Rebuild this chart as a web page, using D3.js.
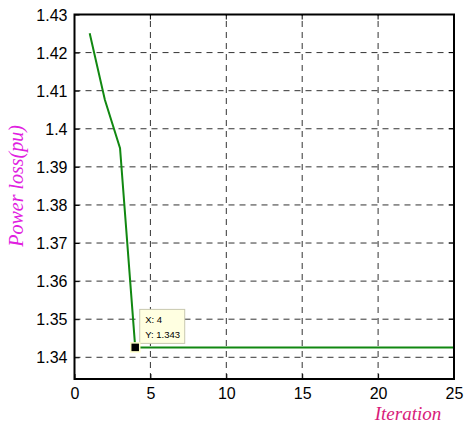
<!DOCTYPE html>
<html>
<head>
<meta charset="utf-8">
<script src="https://cdn.jsdelivr.net/npm/d3@7"></script>
<style>
    body { margin: 0; background: #fff; }
    .tick text, .tip { font-family: "Liberation Sans", Helvetica, Arial, sans-serif; }
    .lbl { font-family: "Liberation Serif", "Times New Roman", serif; font-style: italic; }
</style>
</head>
<body>
<div id="chart"></div>
<script>
const iterations = [1, 2, 3, 4, 5, 6, 7, 8, 9, 10, 11, 12, 13, 14, 15, 16, 17, 18, 19, 20, 21, 22, 23, 24, 25];
const powerLoss = [1.4251, 1.4076, 1.3949, 1.3426, 1.3426, 1.3426, 1.3426, 1.3426, 1.3426, 1.3426,
    1.3426, 1.3426, 1.3426, 1.3426, 1.3426, 1.3426, 1.3426, 1.3426, 1.3426, 1.3426,
    1.3426, 1.3426, 1.3426, 1.3426, 1.3426];
const xTicks = [0, 5, 10, 15, 20, 25];
const yTicks = [1.34, 1.35, 1.36, 1.37, 1.38, 1.39, 1.4, 1.41, 1.42, 1.43];
const tipPoint = {x: 4, y: 1.3426, labels: ['X: 4', 'Y: 1.343']};

const W = 464, H = 425;
const margin = {left: 74.5, right: 10, top: 14.5, bottom: 46};

const svg = d3.select('#chart').append('svg')
    .attr('width', W)
    .attr('height', H);

const x = d3.scaleLinear().domain([0, 25]).range([margin.left, W - margin.right]);
const y = d3.scaleLinear().domain([1.3343, 1.43]).range([H - margin.bottom, margin.top]);

const g = svg.append('g');

// dashed grid
g.selectAll('.gx')
    .data(xTicks.slice(1, -1))
    .enter().append('line')
    .attr('x1', d => x(d)).attr('x2', d => x(d))
    .attr('y1', y.range()[0]).attr('y2', y.range()[1])
    .attr('stroke', '#333').attr('stroke-width', 1)
    .attr('stroke-dasharray', '6,5');
g.selectAll('.gy')
    .data(yTicks.slice(0, -1))
    .enter().append('line')
    .attr('x1', x.range()[0]).attr('x2', x.range()[1])
    .attr('y1', d => y(d)).attr('y2', d => y(d))
    .attr('stroke', '#333').attr('stroke-width', 1)
    .attr('stroke-dasharray', '6,5');

// line
const line = d3.line()
    .x((d, i) => x(iterations[i]))
    .y(d => y(d));
g.append('path')
    .datum(powerLoss)
    .attr('fill', 'none')
    .attr('stroke', '#118811')
    .attr('stroke-width', 2)
    .attr('d', line);

// axes
const xAxis = g.append('g')
    .attr('transform', 'translate(0,' + y.range()[0] + ')')
    .call(d3.axisBottom(x).tickValues(xTicks).tickSize(-5).tickPadding(9).tickFormat(d3.format('d')));
const yAxis = g.append('g')
    .attr('transform', 'translate(' + x.range()[0] + ',0)')
    .call(d3.axisLeft(y).tickValues(yTicks).tickSize(-5).tickPadding(7).tickFormat(d => +d.toFixed(2) + ''));
[xAxis, yAxis].forEach(a => {
    a.select('.domain').remove();
    a.selectAll('line').attr('stroke', '#000');
    a.selectAll('text').attr('font-size', 16).attr('fill', '#000');
});
yAxis.selectAll('text').attr('dy', '0.35em');

// right / top ticks and box
g.selectAll('.tt')
    .data(xTicks)
    .enter().append('line')
    .attr('x1', d => x(d)).attr('x2', d => x(d))
    .attr('y1', y.range()[1]).attr('y2', y.range()[1] + 5)
    .attr('stroke', '#000');
g.selectAll('.rt')
    .data(yTicks)
    .enter().append('line')
    .attr('x1', x.range()[1]).attr('x2', x.range()[1] - 5)
    .attr('y1', d => y(d)).attr('y2', d => y(d))
    .attr('stroke', '#000');
g.append('rect')
    .attr('x', x.range()[0]).attr('y', y.range()[1])
    .attr('width', x.range()[1] - x.range()[0])
    .attr('height', y.range()[0] - y.range()[1])
    .attr('fill', 'none')
    .attr('stroke', '#000').attr('stroke-width', 2);

// data tip
const tx = x(tipPoint.x), ty = y(tipPoint.y);
g.append('rect')
    .attr('x', tx + 4.5).attr('y', ty - 38)
    .attr('width', 45).attr('height', 34)
    .attr('fill', '#ffffe1')
    .attr('stroke', '#c8c8b0').attr('stroke-width', 1);
g.selectAll('.tip')
    .data(tipPoint.labels)
    .enter().append('text')
    .attr('class', 'tip')
    .attr('x', tx + 10)
    .attr('y', (d, i) => ty - 24 + i * 15)
    .attr('font-size', 9.5)
    .attr('fill', '#000')
    .text(d => d);
g.append('rect')
    .attr('x', tx - 4.5).attr('y', ty - 4.5)
    .attr('width', 9).attr('height', 9)
    .attr('fill', '#000')
    .attr('stroke', '#ffffc8').attr('stroke-width', 1.5);

// axis labels
svg.append('text')
    .attr('class', 'lbl')
    .attr('x', 408).attr('y', 420)
    .attr('text-anchor', 'middle')
    .attr('font-size', 19)
    .attr('fill', '#d81b7a')
    .text('Iteration');
svg.append('text')
    .attr('class', 'lbl')
    .attr('transform', 'translate(23,' + y(1.385) + ') rotate(-90)')
    .attr('text-anchor', 'middle')
    .attr('font-size', 20)
    .attr('fill', '#e020e0')
    .text('Power loss(pu)');
</script>
</body>
</html>
